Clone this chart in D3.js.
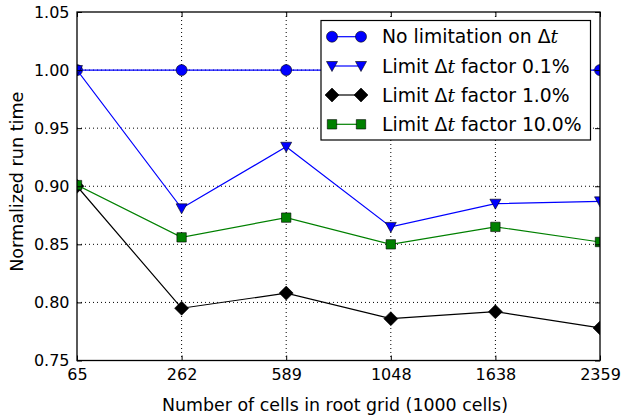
<!DOCTYPE html>
<html>
<head>
<meta charset="utf-8">
<script src="https://cdn.jsdelivr.net/npm/d3@7"></script>
<style>
  body { margin: 0; background: #fff; }
  svg { font-family: "DejaVu Sans", sans-serif; }
</style>
</head>
<body>
<svg id="chart" width="621" height="415"></svg>
<script>
// Grid sizes (thousands of root cells)
const categories = ["65", "262", "589", "1048", "1638", "2359"];

// Normalized run time for each time-step strategy
const noLimit   = [1.000, 1.000, 1.000, 1.000, 1.000, 1.000];
const limit01   = [1.000, 0.881, 0.934, 0.865, 0.885, 0.887];
const limit10   = [0.900, 0.795, 0.808, 0.786, 0.792, 0.778];
const limit100  = [0.901, 0.856, 0.873, 0.850, 0.865, 0.852];

const yTicks = [0.75, 0.80, 0.85, 0.90, 0.95, 1.00, 1.05];

const series = [
  { name: "No limitation on ", tail: " ", values: noLimit,  color: "#0000ff", marker: "circle" },
  { name: "Limit ", tail: " factor 0.1%",  values: limit01, color: "#0000ff", marker: "triangle" },
  { name: "Limit ", tail: " factor 1.0%",  values: limit10, color: "#000000", marker: "diamond" },
  { name: "Limit ", tail: " factor 10.0%", values: limit100, color: "#008000", marker: "square" }
];

const svg = d3.select("#chart");
const m = { left: 77, right: 600, top: 12, bottom: 360.5 };

const x = d3.scalePoint().domain(categories).range([m.left, m.right]);
const y = d3.scaleLinear().domain([0.75, 1.05]).range([m.bottom, m.top]);

svg.append("defs").append("clipPath").attr("id", "plotClip")
  .append("rect")
  .attr("x", m.left).attr("y", m.top)
  .attr("width", m.right - m.left).attr("height", m.bottom - m.top);

// Dotted grid
const grid = svg.append("g");
grid.selectAll(".gx").data(categories.slice(1, -1)).join("line")
  .attr("x1", d => x(d)).attr("x2", d => x(d))
  .attr("y1", m.top).attr("y2", m.bottom)
  .attr("stroke", "#000").attr("stroke-width", 1).attr("stroke-dasharray", "1,3");
grid.selectAll(".gy").data(yTicks.slice(1, -1)).join("line")
  .attr("y1", d => y(d)).attr("y2", d => y(d))
  .attr("x1", m.left).attr("x2", m.right)
  .attr("stroke", "#000").attr("stroke-width", 1).attr("stroke-dasharray", "1,3");

// Marker shapes
function markerPath(type) {
  switch (type) {
    case "circle":   return d3.symbol(d3.symbolCircle, 95)();
    case "triangle": return "M-5.5,-4.5L5.5,-4.5L0,5.5Z";
    case "diamond":  return "M0,-7L7,0L0,7L-7,0Z";
    case "square":   return "M-4.7,-4.7L4.7,-4.7L4.7,4.7L-4.7,4.7Z";
  }
}

const plot = svg.append("g").attr("clip-path", "url(#plotClip)");
const line = d3.line().x((d, i) => x(categories[i])).y(d => y(d));

series.forEach(s => {
  const g = plot.append("g");
  g.append("path").datum(s.values)
    .attr("d", line).attr("fill", "none")
    .attr("stroke", s.color).attr("stroke-width", 1.2);
  g.selectAll("path.mk").data(s.values).join("path")
    .attr("class", "mk")
    .attr("transform", (d, i) => `translate(${x(categories[i])},${y(d)})`)
    .attr("d", markerPath(s.marker))
    .attr("fill", s.color).attr("stroke", "#000").attr("stroke-width", 0.6);
});

// Axes with inward ticks on all four sides
const tickLen = 5;
const axisBottom = d3.axisBottom(x).tickSizeInner(-tickLen).tickSizeOuter(0).tickPadding(8);
const axisTop = d3.axisTop(x).tickSizeInner(-tickLen).tickSizeOuter(0).tickFormat("");
const axisLeft = d3.axisLeft(y).tickValues(yTicks).tickFormat(d3.format(".2f"))
  .tickSizeInner(-tickLen).tickSizeOuter(0).tickPadding(7.5);
const axisRight = d3.axisRight(y).tickValues(yTicks).tickSizeInner(-tickLen).tickSizeOuter(0).tickFormat("");

function styleAxis(g) {
  g.select(".domain").remove();
  g.selectAll(".tick line").attr("stroke", "#000").attr("stroke-width", 1);
  g.selectAll(".tick text").attr("fill", "#000").attr("font-size", 16)
    .attr("font-family", "DejaVu Sans, sans-serif");
}
svg.append("g").attr("transform", `translate(0,${m.bottom})`).call(axisBottom).call(styleAxis);
svg.append("g").attr("transform", `translate(0,${m.top})`).call(axisTop).call(styleAxis);
svg.append("g").attr("transform", `translate(${m.left},0)`).call(axisLeft).call(styleAxis);
svg.append("g").attr("transform", `translate(${m.right},0)`).call(axisRight).call(styleAxis);

// Frame
svg.append("rect")
  .attr("x", m.left).attr("y", m.top)
  .attr("width", m.right - m.left).attr("height", m.bottom - m.top)
  .attr("fill", "none").attr("stroke", "#000").attr("stroke-width", 1.3);

// Axis titles
svg.append("text")
  .attr("x", 335).attr("y", 411)
  .attr("text-anchor", "middle").attr("font-size", 17.4)
  .text("Number of cells in root grid (1000 cells)");
svg.append("text")
  .attr("transform", `translate(23,${181.7}) rotate(-90)`)
  .attr("text-anchor", "middle").attr("font-size", 17.6)
  .text("Normalized run time");

// Legend
const lg = svg.append("g");
lg.append("rect")
  .attr("x", 321).attr("y", 20.5).attr("width", 269.5).attr("height", 119.5)
  .attr("fill", "#fff").attr("stroke", "#000").attr("stroke-width", 1.2);
const rowY = [36.7, 66, 95, 124.3];
series.forEach((s, i) => {
  const ry = rowY[i];
  const row = lg.append("g");
  row.append("line").attr("x1", 332).attr("x2", 361).attr("y1", ry).attr("y2", ry)
    .attr("stroke", s.color).attr("stroke-width", 1.2);
  [332, 361].forEach(px => row.append("path")
    .attr("transform", `translate(${px},${ry})`)
    .attr("d", markerPath(s.marker))
    .attr("fill", s.color).attr("stroke", "#000").attr("stroke-width", 0.6));
  const t = row.append("text").attr("x", 382).attr("y", ry + 6.5).attr("font-size", 18.8);
  t.append("tspan").text(s.name);
  t.append("tspan").text("Δ");
  t.append("tspan").attr("font-family", "DejaVu Serif, serif").attr("font-style", "italic").text("t");
  if (s.tail.trim()) t.append("tspan").text(s.tail);
});
</script>
</body>
</html>
